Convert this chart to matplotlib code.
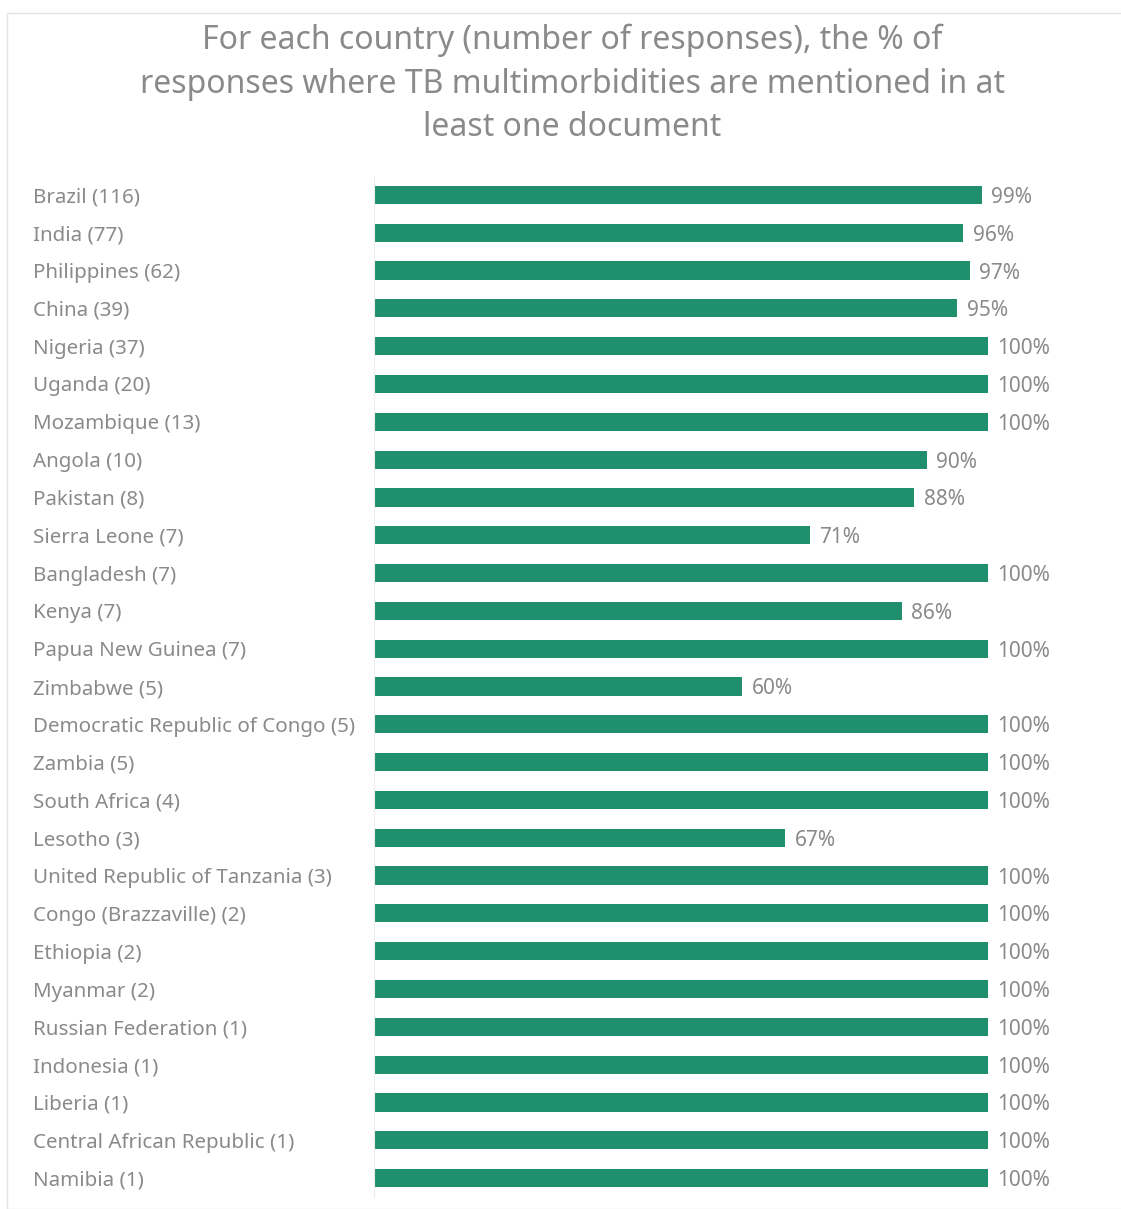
import matplotlib.pyplot as plt
from matplotlib.patches import Rectangle

countries = [
    'Brazil (116)', 'India (77)', 'Philippines (62)', 'China (39)', 'Nigeria (37)',
    'Uganda (20)', 'Mozambique (13)', 'Angola (10)', 'Pakistan (8)', 'Sierra Leone (7)',
    'Bangladesh (7)', 'Kenya (7)', 'Papua New Guinea (7)', 'Zimbabwe (5)',
    'Democratic Republic of Congo (5)', 'Zambia (5)', 'South Africa (4)', 'Lesotho (3)',
    'United Republic of Tanzania (3)', 'Congo (Brazzaville) (2)', 'Ethiopia (2)',
    'Myanmar (2)', 'Russian Federation (1)', 'Indonesia (1)', 'Liberia (1)',
    'Central African Republic (1)', 'Namibia (1)',
]
pct = [99, 96, 97, 95, 100, 100, 100, 90, 88, 71, 100, 86, 100, 60,
       100, 100, 100, 67, 100, 100, 100, 100, 100, 100, 100, 100, 100]

green = '#1f8f6d'
grey = '#8a8a8a'
plt.rcParams['font.family'] = ['Noto Sans', 'DejaVu Sans']

fig = plt.figure(figsize=(11.21, 12.09), dpi=100)
# thin frame around the chart area
fig.patches.append(Rectangle((7 / 1121, 0), 1, 1 - 13 / 1209, transform=fig.transFigure,
                             fill=False, edgecolor='#e4e4e4', linewidth=1))

ax = fig.add_axes([374 / 1121, 12 / 1209, 614 / 1121, 1021 / 1209])
y = list(range(len(countries)))
ax.barh(y, pct, height=0.48, color=green)
ax.set_xlim(0, 100)
ax.set_ylim(len(countries) - 0.5, -0.5)

for yi, v in zip(y, pct):
    ax.text(v + 1.5, yi, f'{v}%', va='center_baseline', ha='left', fontsize=15, color=grey)

ax.set_yticks(y)
ax.set_yticklabels(countries, fontsize=14.8, color=grey, ha='left')
ax.tick_params(axis='y', length=0, pad=341 * 0.72)
ax.set_xticks([])
for s in ['top', 'right', 'bottom']:
    ax.spines[s].set_visible(False)
ax.spines['left'].set_color('#ececec')

fig.text(572 / 1121, 1 - 84 / 1209,
         'For each country (number of responses), the % of\n'
         'responses where TB multimorbidities are mentioned in at\n'
         'least one document',
         ha='center', va='center', fontsize=23, color=grey, linespacing=1.42)

fig.savefig('out.png', dpi=100)
